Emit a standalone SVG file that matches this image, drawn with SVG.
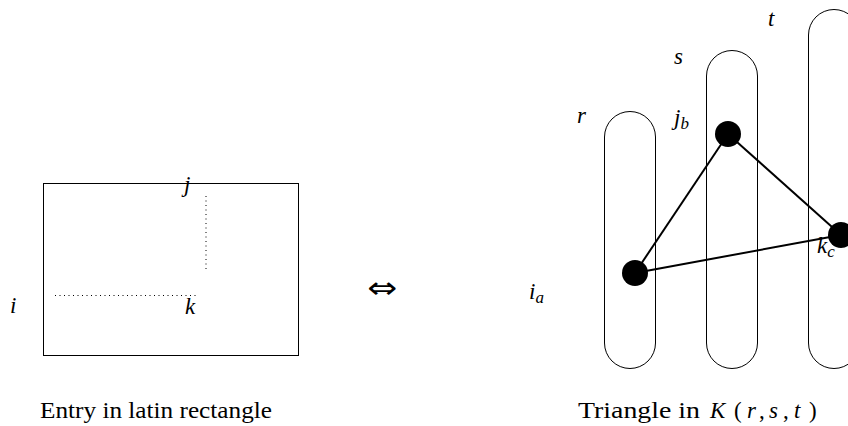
<svg xmlns="http://www.w3.org/2000/svg" width="848" height="426" viewBox="0 0 848 426">
<style>
.m{font-family:"Liberation Serif","DejaVu Serif",serif;font-style:italic;font-size:23px;fill:#000}
.sub{font-size:17px}
.t{font-family:"Liberation Serif","DejaVu Serif",serif;font-size:23px;fill:#000}
.cap{fill:none;stroke:#000;stroke-width:1}
.dot{stroke:#000;stroke-width:1;stroke-dasharray:1 3.5}
.edge{stroke:#000;stroke-width:2;fill:none}
</style>
<rect width="848" height="426" fill="#fff"/>
<g id="rectangle">
<rect x="43.5" y="183.5" width="255" height="172" fill="none" stroke="#000" stroke-width="1"/>
<line class="dot" x1="206" y1="196" x2="206" y2="272"/>
<line class="dot" x1="55" y1="295.5" x2="197" y2="295.5"/>
<text class="m" x="184" y="192">j</text>
<text class="m" x="185" y="314">k</text>
<text class="m" x="10" y="313">i</text>
</g>
<g id="equiv"><text x="367" y="297.5" font-family="DejaVu Sans,sans-serif" font-size="30" fill="#000" textLength="30" lengthAdjust="spacingAndGlyphs">⇔</text></g>
<g id="part-r">
<path class="cap" d="M604.5,137 A25.5,25.5 0 0 1 655.5,137 V343 A25.5,25.5 0 0 1 604.5,343 Z"/>
<text class="m" x="577" y="123">r</text>
</g>
<g id="part-s">
<path class="cap" d="M706.5,76 A25.5,25.5 0 0 1 757.5,76 V343 A25.5,25.5 0 0 1 706.5,343 Z"/>
<text class="m" x="674" y="64">s</text>
</g>
<g id="part-t">
<path class="cap" d="M808.5,35 A25.5,25.5 0 0 1 859.5,35 V343 A25.5,25.5 0 0 1 808.5,343 Z"/>
<text class="m" x="768" y="26">t</text>
</g>
<g id="connectors">
<line class="edge" x1="635" y1="273" x2="728" y2="134"/>
<line class="edge" x1="728" y1="134" x2="841" y2="235"/>
<line class="edge" x1="635" y1="273" x2="841" y2="235"/>
</g>
<g id="node-jb">
<circle cx="728" cy="134" r="13" fill="#000"/>
<text class="m" x="674" y="125">j<tspan class="sub" dy="4">b</tspan></text>
</g>
<g id="node-ia">
<circle cx="635" cy="273" r="13" fill="#000"/>
<text class="m" x="529" y="299">i<tspan class="sub" dy="4">a</tspan></text>
</g>
<g id="node-kc">
<circle cx="841" cy="235" r="13" fill="#000"/>
<text class="m" x="817" y="253">k<tspan class="sub" dy="4">c</tspan></text>
</g>
<g id="captions">
<text class="t" x="40" y="418" textLength="232" lengthAdjust="spacingAndGlyphs">Entry in latin rectangle</text>
<text class="t" x="578" y="418" textLength="122" lengthAdjust="spacingAndGlyphs">Triangle in</text>
<text class="m" x="710" y="418" font-size="25">K</text>
<text class="t" x="734" y="418">(</text>
<text class="m" x="747" y="418">r</text>
<text class="t" x="759" y="418">,</text>
<text class="m" x="769" y="418">s</text>
<text class="t" x="783" y="418">,</text>
<text class="m" x="794" y="418">t</text>
<text class="t" x="809" y="418">)</text>
</g>
</svg>
